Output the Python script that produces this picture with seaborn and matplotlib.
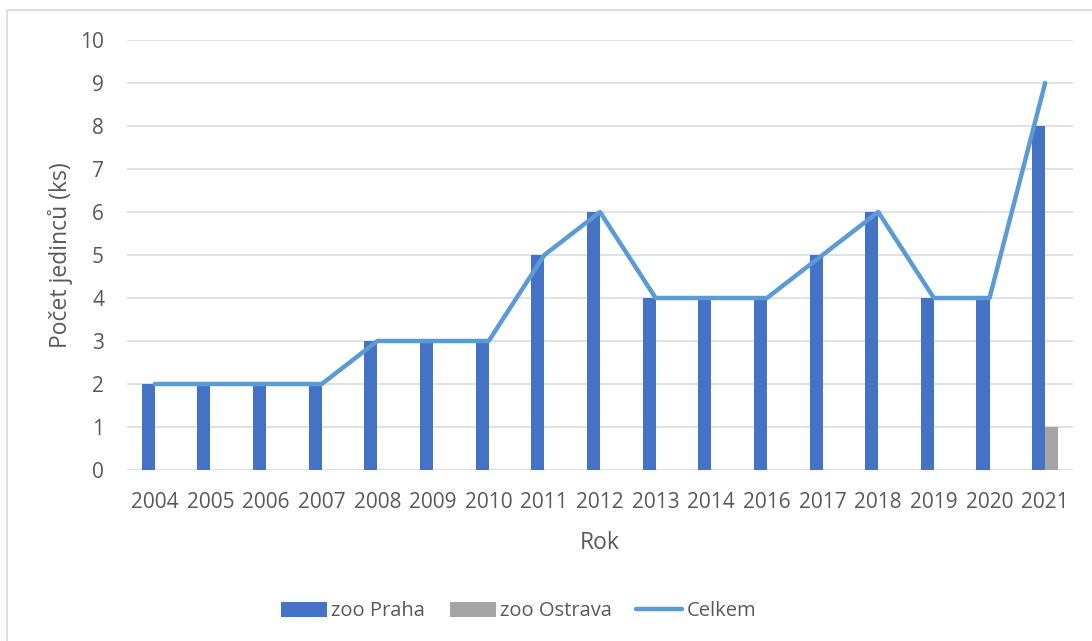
import matplotlib
matplotlib.use("Agg")
import matplotlib.pyplot as plt
import seaborn as sns
import numpy as np
import pandas as pd
from matplotlib.patches import Patch, Rectangle
from matplotlib.lines import Line2D

years = ["2004", "2005", "2006", "2007", "2008", "2009", "2010", "2011", "2012",
         "2013", "2014", "2016", "2017", "2018", "2019", "2020", "2021"]
praha = [2, 2, 2, 2, 3, 3, 3, 5, 6, 4, 4, 4, 5, 6, 4, 4, 8]
ostrava = [0, 0, 0, 0, 0, 0, 0, 0, 0, 0, 0, 0, 0, 0, 0, 0, 1]
celkem = [2, 2, 2, 2, 3, 3, 3, 5, 6, 4, 4, 4, 5, 6, 4, 4, 9]
series_names = ["zoo Praha", "zoo Ostrava", "Celkem"]
yticks = [0, 1, 2, 3, 4, 5, 6, 7, 8, 9, 10]

c_praha = "#4472C4"
c_ostrava = "#A5A5A5"
c_line = "#5B9BD5"
c_text = "#595959"
c_grid = "#D9D9D9"

sns.set_theme(style="white")
plt.rcParams["font.family"] = ["Open Sans", "DejaVu Sans"]

df = pd.DataFrame({
    "Rok": years * 2,
    "value": praha + ostrava,
    "series": [series_names[0]] * len(years) + [series_names[1]] * len(years),
})

fig = plt.figure(figsize=(10.92, 6.41), dpi=100)
ax = fig.add_axes([127 / 1092, 1 - 470 / 641, (1073 - 127) / 1092, (470 - 40) / 641])

sns.barplot(data=df, x="Rok", y="value", hue="series", order=years,
            hue_order=series_names[:2], palette=[c_praha, c_ostrava],
            width=0.47, dodge=True, legend=False, ax=ax, linewidth=0,
            saturation=1)

sns.lineplot(x=np.arange(len(years)), y=celkem, ax=ax, color=c_line, lw=3.2,
             legend=False, solid_capstyle="round", solid_joinstyle="round")

ax.set_xlim(-0.5, len(years) - 0.5)
ax.set_ylim(0, 10)
ax.set_yticks(yticks)
ax.set_axisbelow(True)
ax.yaxis.grid(True, color=c_grid, lw=1.1)
ax.xaxis.grid(False)
for s in ["top", "right", "left", "bottom"]:
    ax.spines[s].set_visible(False)

ax.tick_params(axis="both", length=0, labelsize=15, labelcolor=c_text)
ax.tick_params(axis="y", pad=16.5)
ax.tick_params(axis="x", pad=16)
ax.set_xlabel("Rok", fontsize=16.5, color=c_text, labelpad=13)
ax.set_ylabel("Počet jedinců (ks)", fontsize=16.5, color=c_text, labelpad=5)

handles = [
    Patch(facecolor=c_praha, edgecolor="none"),
    Patch(facecolor=c_ostrava, edgecolor="none"),
    Line2D([0], [0], color=c_line, lw=3.2, solid_capstyle="round"),
]
leg = fig.legend(handles, series_names, loc="center", bbox_to_anchor=(518.5 / 1092, 1 - 611.5 / 641),
                 ncol=3, frameon=False, fontsize=14.5, handlelength=2.3, handleheight=0.7,
                 handletextpad=0.2, columnspacing=1.2, borderpad=0)
for t in leg.get_texts():
    t.set_color(c_text)

fig.patches.append(Rectangle((6.5 / 1092, -0.05), 1.1, 1 - 9.5 / 641 + 0.05,
                             transform=fig.transFigure, fill=False,
                             edgecolor="#D9D9D9", lw=1.2, zorder=0))

fig.savefig("out.png", dpi=100)
